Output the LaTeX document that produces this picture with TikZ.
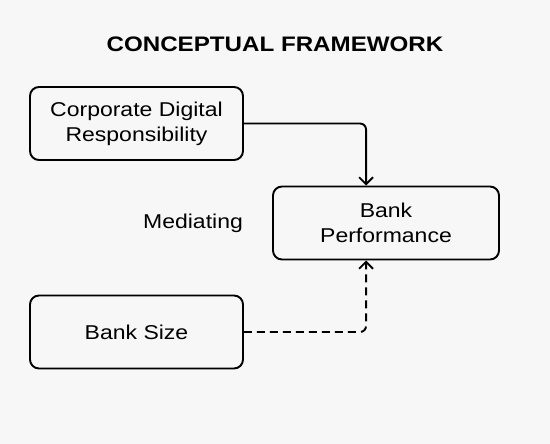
\documentclass[tikz,border=0pt]{standalone}
\usepackage{fontspec}
\setmainfont[FakeStretch=1.15]{Liberation Sans}
\usetikzlibrary{arrows.meta,positioning}

\begin{document}
\begin{tikzpicture}[x=1pt,y=-1pt,
  box/.style={draw,line width=1.9pt,rounded corners=9pt,minimum width=213pt,minimum height=73pt,align=center,font=\fontsize{20}{25}\selectfont},
  link/.style={line width=1.9pt,rounded corners=6pt,-{Straight Barb[length=7pt,width=14pt]}}]
\useasboundingbox (0,0) rectangle (550,444);
\fill[black!3] (0,0) rectangle (550,444);
\node[font=\bfseries\fontsize{21}{25}\selectfont] (title) at (275,44) {CONCEPTUAL FRAMEWORK};
\node[box] (cdr) at (136.5,123.5) {Corporate Digital\\Responsibility};
\node[box,minimum width=226pt] (perf) at (386,223) {Bank\\Performance};
\node[box] (size) at (136.5,332) {Bank Size};
\node[font=\fontsize{20}{25}\selectfont] (med) at (193,223) {Mediating};
% arrows into Bank Performance
\draw[link] (cdr.east) -| ([xshift=94pt]perf.north west);
\draw[link,dashed,dash pattern=on 8pt off 5pt] (size.east) -| ([xshift=94pt]perf.south west);
\end{tikzpicture}
\end{document}
